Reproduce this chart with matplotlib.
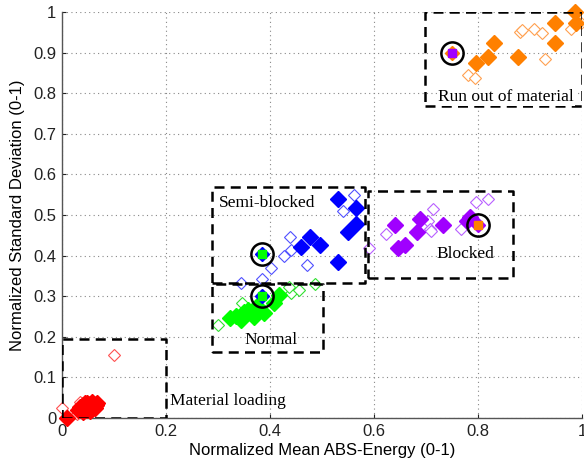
import matplotlib
matplotlib.use("Agg")
import matplotlib.pyplot as plt

# ---------------- data ----------------
# Material loading (red)
load_fill_x = [0.010, 0.030, 0.035, 0.038, 0.040, 0.042, 0.045, 0.047, 0.050, 0.052, 0.055, 0.057, 0.060, 0.062, 0.065, 0.067, 0.040, 0.048, 0.053, 0.058, 0.063, 0.044, 0.050, 0.056, 0.061]
load_fill_y = [0.000, 0.020, 0.028, 0.022, 0.032, 0.025, 0.030, 0.020, 0.034, 0.026, 0.030, 0.022, 0.033, 0.027, 0.031, 0.036, 0.016, 0.038, 0.018, 0.040, 0.024, 0.036, 0.024, 0.035, 0.030]
load_open_x = [0.100, 0.000, 0.028, 0.070, 0.066, 0.034]
load_open_y = [0.155, 0.025, 0.010, 0.032, 0.040, 0.040]

# Normal (green)
norm_fill_x = [0.324, 0.350, 0.344, 0.369, 0.357, 0.389, 0.408, 0.418, 0.375, 0.335]
norm_fill_y = [0.246, 0.262, 0.241, 0.249, 0.266, 0.258, 0.283, 0.303, 0.275, 0.252]
norm_open_x = [0.347, 0.440, 0.456, 0.486, 0.437, 0.300]
norm_open_y = [0.283, 0.307, 0.315, 0.330, 0.323, 0.230]

# Semi-blocked (blue)
semi_fill_x = [0.530, 0.566, 0.566, 0.550, 0.477, 0.459, 0.497, 0.531]
semi_fill_y = [0.539, 0.517, 0.479, 0.459, 0.445, 0.422, 0.426, 0.385]
semi_open_x = [0.562, 0.540, 0.439, 0.441, 0.426, 0.402, 0.472, 0.345, 0.384]
semi_open_y = [0.549, 0.511, 0.447, 0.414, 0.399, 0.369, 0.377, 0.333, 0.342]

# Blocked (purple)
blk_fill_x = [0.640, 0.688, 0.683, 0.733, 0.784, 0.778, 0.646, 0.659]
blk_fill_y = [0.475, 0.489, 0.459, 0.475, 0.494, 0.485, 0.418, 0.426]
blk_open_x = [0.624, 0.714, 0.704, 0.707, 0.710, 0.768, 0.797, 0.820, 0.591]
blk_open_y = [0.453, 0.514, 0.484, 0.465, 0.461, 0.465, 0.533, 0.539, 0.418]

# Run out of material (orange)
run_fill_x = [0.797, 0.820, 0.831, 0.876, 0.948, 0.948, 0.987, 0.988]
run_fill_y = [0.874, 0.888, 0.924, 0.888, 0.974, 0.924, 1.000, 0.972]
run_open_x = [0.781, 0.794, 0.881, 0.884, 0.907, 0.924, 0.929, 0.979, 0.998]
run_open_y = [0.845, 0.837, 0.951, 0.956, 0.957, 0.949, 0.884, 0.957, 0.973]

# Circled centroids
cent_x = [0.385, 0.385, 0.800, 0.750]
cent_y = [0.300, 0.405, 0.475, 0.900]
cent_diamond = ['#0000ff', '#0000ff', '#a000ff', '#ff8000']
cent_square = ['#00ff00', '#00ff00', '#ff8000', '#a000ff']

# Dashed region boxes
box_x0 = [0.000, 0.288, 0.288, 0.588, 0.699]
box_x1 = [0.200, 0.501, 0.583, 0.868, 1.000]
box_y0 = [0.000, 0.163, 0.333, 0.344, 0.768]
box_y1 = [0.195, 0.330, 0.570, 0.559, 1.000]

labels = ['Material loading', 'Normal', 'Semi-blocked', 'Blocked', 'Run out of material']
label_x = [0.208, 0.402, 0.301, 0.776, 0.985]
label_y = [0.042, 0.192, 0.530, 0.404, 0.790]
label_ha = ['left', 'center', 'left', 'center', 'right']

# ---------------- plot ----------------
fig = plt.figure(figsize=(5.84, 4.68), dpi=100)
ax = fig.add_axes([0.1062, 0.1068, 0.8904, 0.8676])

ax.set_xlim(0, 1)
ax.set_ylim(0, 1)
ax.set_xticks([0, 0.2, 0.4, 0.6, 0.8, 1])
ax.set_xticklabels(['0', '0.2', '0.4', '0.6', '0.8', '1'])
ax.set_yticks([0, 0.1, 0.2, 0.3, 0.4, 0.5, 0.6, 0.7, 0.8, 0.9, 1])
ax.set_yticklabels(['0', '0.1', '0.2', '0.3', '0.4', '0.5', '0.6', '0.7', '0.8', '0.9', '1'])
ax.grid(True, linestyle=(0, (1, 3)), color='#888888', linewidth=0.8)
ax.set_axisbelow(True)
for s in ['top', 'right']:
    ax.spines[s].set_visible(False)
for s in ['left', 'bottom']:
    ax.spines[s].set_color('#555555')
    ax.spines[s].set_linewidth(1.0)
ax.tick_params(direction='in', length=3, labelsize=12, colors='#222222', pad=4)
for lab in ax.get_xticklabels() + ax.get_yticklabels():
    lab.set_family('Liberation Sans')

ax.set_xlabel('Normalized Mean ABS-Energy (0-1)', fontsize=12, family='Liberation Sans', labelpad=3)
ax.set_ylabel('Normalized Standard Deviation (0-1)', fontsize=12, family='Liberation Sans', labelpad=6)

groups = [
    (load_fill_x, load_fill_y, load_open_x, load_open_y, '#ff0000', '#ff5050'),
    (norm_fill_x, norm_fill_y, norm_open_x, norm_open_y, '#00ff00', '#30e030'),
    (semi_fill_x, semi_fill_y, semi_open_x, semi_open_y, '#0000ff', '#5050ff'),
    (blk_fill_x, blk_fill_y, blk_open_x, blk_open_y, '#a000ff', '#b860ff'),
    (run_fill_x, run_fill_y, run_open_x, run_open_y, '#ff8000', '#ffa050'),
]
for fx, fy, ox, oy, c, oc in groups:
    ax.plot(ox, oy, linestyle='none', marker='D', markersize=6.5, markerfacecolor='white',
            markeredgecolor=oc, markeredgewidth=0.8, clip_on=False, zorder=3)
    ax.plot(fx, fy, linestyle='none', marker='D', markersize=8.3, markerfacecolor=c,
            markeredgecolor=c, clip_on=False, zorder=4)

for x0, x1, y0, y1 in zip(box_x0, box_x1, box_y0, box_y1):
    ax.plot([x0, x1, x1, x0, x0], [y0, y0, y1, y1, y0], color='black', linestyle=(0, (4, 2.5)),
            linewidth=1.8, clip_on=True, zorder=5)

for x, y, dc, sc in zip(cent_x, cent_y, cent_diamond, cent_square):
    ax.plot([x], [y], marker='D', markersize=7.5, color=dc, linestyle='none', zorder=6)
    ax.plot([x], [y], marker='s', markersize=5.2, color=sc, linestyle='none', zorder=7)
    ax.plot([x], [y], marker='o', markersize=16, markerfacecolor='none', markeredgecolor='black',
            markeredgewidth=1.8, linestyle='none', zorder=8)

for t, x, y, ha in zip(labels, label_x, label_y, label_ha):
    ax.text(x, y, t, ha=ha, va='center', fontsize=12.5, family='Liberation Serif', zorder=9,
            bbox=dict(facecolor='white', edgecolor='none', pad=0.5) if t == 'Run out of material' else None)

fig.savefig('out.png', dpi=100)
